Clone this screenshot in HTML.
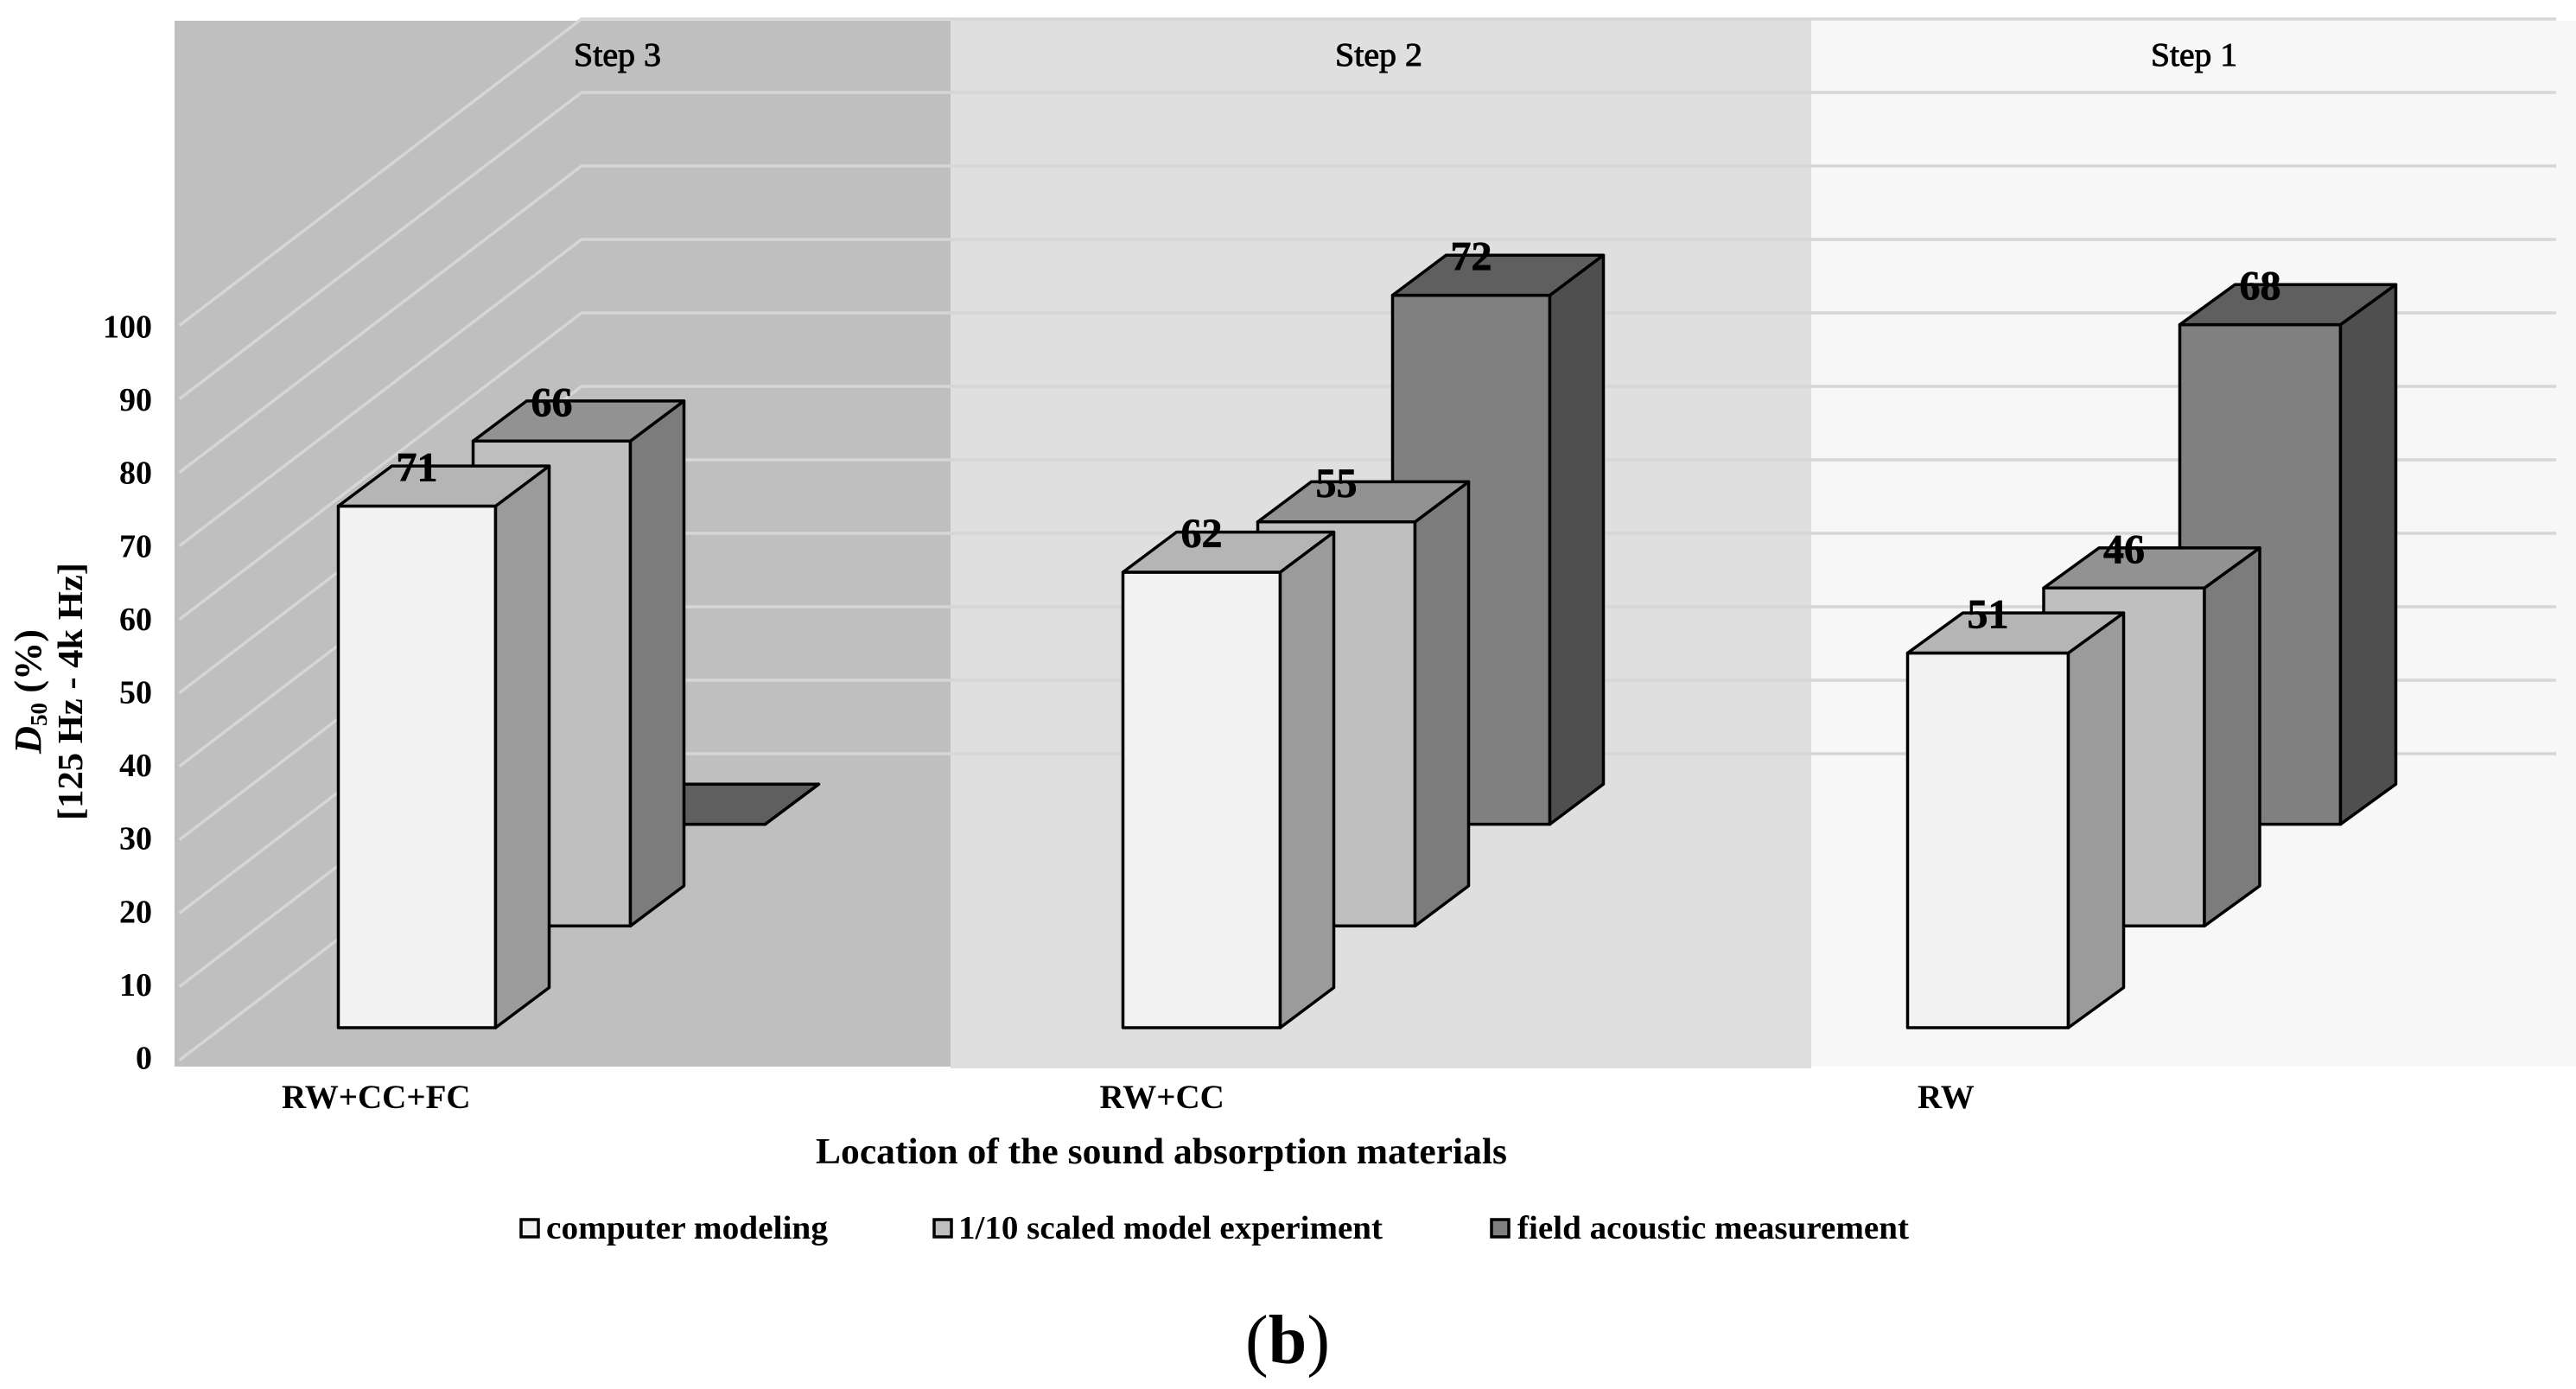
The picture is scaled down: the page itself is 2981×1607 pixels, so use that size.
<!DOCTYPE html>
<html lang="en">
<head>
<meta charset="utf-8">
<title>D50 by location of the sound absorption materials</title>
<style>
  html, body { margin: 0; padding: 0; background: #ffffff; }
  svg { display: block; }
  text { font-family: "Liberation Serif", serif; fill: #000000; }
</style>
</head>
<body>
<svg id="chart" xmlns="http://www.w3.org/2000/svg" width="2981" height="1607" viewBox="0 0 2981 1607">
  <rect x="0" y="0" width="2981" height="1607" fill="#ffffff"/>
  <rect x="202" y="24" width="898" height="1210" fill="#bfbfbf"/>
  <rect x="1100" y="23" width="996" height="1213" fill="#dfdfdf"/>
  <rect x="2096" y="24" width="885" height="1210" fill="#f7f7f7"/>
  <g id="grid"></g>
  <text x="664" y="76" font-size="38" stroke="#000" stroke-width="0.9" textLength="101" lengthAdjust="spacingAndGlyphs">Step 3</text>
  <text x="1545" y="76" font-size="38" stroke="#000" stroke-width="0.9" textLength="101" lengthAdjust="spacingAndGlyphs">Step 2</text>
  <text x="2489" y="76" font-size="38" stroke="#000" stroke-width="0.9" textLength="100" lengthAdjust="spacingAndGlyphs">Step 1</text>
  <g id="bars"></g>
  <g id="value-labels"></g>
  <g id="y-ticks"></g>
  <g id="x-labels"></g>
  <text transform="translate(47,872) rotate(-90)" font-size="44" font-weight="bold" textLength="144" lengthAdjust="spacingAndGlyphs"><tspan font-style="italic">D</tspan><tspan font-size="27" dy="7">50</tspan><tspan dy="-7"> (%)</tspan></text>
  <text transform="translate(95,949) rotate(-90)" font-size="41" font-weight="bold" textLength="298" lengthAdjust="spacingAndGlyphs">[125 Hz - 4k Hz]</text>
  <text x="944" y="1346" font-size="42" font-weight="bold" textLength="800" lengthAdjust="spacingAndGlyphs">Location of the sound absorption materials</text>

  <g>
    <g>
      <rect x="603" y="1411" width="20" height="20" fill="#f2f2f2" stroke="#000" stroke-width="3.5"/>
      <text x="632" y="1433" font-size="38" font-weight="bold" textLength="326" lengthAdjust="spacingAndGlyphs">computer modeling</text>
    </g>
    <g>
      <rect x="1081" y="1411" width="20" height="20" fill="#bfbfbf" stroke="#000" stroke-width="3.5"/>
      <text x="1109" y="1433" font-size="38" font-weight="bold" textLength="491" lengthAdjust="spacingAndGlyphs">1/10 scaled model experiment</text>
    </g>
    <g>
      <rect x="1726" y="1411" width="20" height="20" fill="#808080" stroke="#000" stroke-width="3.5"/>
      <text x="1756" y="1433" font-size="38" font-weight="bold" textLength="453" lengthAdjust="spacingAndGlyphs">field acoustic measurement</text>
    </g>
  </g>

  <text x="1441" y="1577" font-size="80" textLength="98" lengthAdjust="spacing">(<tspan font-weight="bold">b</tspan>)</text>
</svg>

<script>
const categories = ['RW+CC+FC', 'RW+CC', 'RW'];
const computerModeling = [71, 62, 51];
const scaledModel = [66, 55, 46];
const fieldMeasurement = [0, 72, 68];
const tickLabels = [0, 10, 20, 30, 40, 50, 60, 70, 80, 90, 100];

const SVG_NS = 'http://www.w3.org/2000/svg';

function make(tag, parent) {
  const el = document.createElementNS(SVG_NS, tag);
  parent.appendChild(el);
  return el;
}

function valueHeight(v) { return v * 8.5; }
function gridBackY(v) { return 872 - v * 8.5; }
function tickLabelY(v) { return 1236.5 - v * 8.46; }
function categoryGeometry(i) {
  const last = i === 2;
  return {
    left: 391.5 + 908 * i,
    width: last ? 186 : 182,
    rowStep: last ? 157.5 : 156,
    dx: last ? 64 : 62
  };
}
function rowBaseY(row) { return 1189 - row * 117.7; }

const seriesStyles = [
  { key: 'computer-modeling', front: '#f2f2f2', side: '#9b9b9b', top: '#b5b5b5', values: computerModeling },
  { key: 'scaled-model', front: '#bfbfbf', side: '#7c7c7c', top: '#929292', values: scaledModel },
  { key: 'field-measurement', front: '#808080', side: '#4f4f4f', top: '#5f5f5f', values: fieldMeasurement }
];

function drawGrid() {
  const group = document.getElementById('grid');
  tickLabels.forEach(function (v) {
    const y = gridBackY(v);
    const line = make('polyline', group);
    
    
    line.setAttribute('points', '207.6,' + (y + 354.6) + ' 673,' + y + ' 2958,' + y);
    line.setAttribute('fill', 'none');
    line.setAttribute('stroke', '#d6d6d6');
    line.setAttribute('stroke-width', '3.5');
  });
}

function face(parent, name, points, fill) {
  const poly = make('polygon', parent);
  
  
  poly.setAttribute('points', points.map(function (p) { return p[0] + ',' + p[1]; }).join(' '));
  poly.setAttribute('fill', fill);
  poly.setAttribute('stroke', '#000000');
  poly.setAttribute('stroke-width', '3.5');
  poly.setAttribute('stroke-linejoin', 'round');
}

function drawBars() {
  const barsGroup = document.getElementById('bars');
  const labelsGroup = document.getElementById('value-labels');
  const dy = 46.4;
  categories.forEach(function (cat, i) {
    const geo = categoryGeometry(i);
    for (let s = seriesStyles.length - 1; s >= 0; s--) {
      const series = seriesStyles[s];
      const value = series.values[i];
      const x0 = geo.left + s * geo.rowStep;
      const x1 = x0 + geo.width;
      const bottom = rowBaseY(s);
      const top = bottom - valueHeight(value);
      const bar = make('g', barsGroup);
      
      
      face(bar, 'bar-front', [[x0, top], [x1, top], [x1, bottom], [x0, bottom]], series.front);
      face(bar, 'bar-side', [[x1, top], [x1 + geo.dx, top - dy], [x1 + geo.dx, bottom - dy], [x1, bottom]], series.side);
      face(bar, 'bar-top', [[x0, top], [x0 + geo.dx, top - dy], [x1 + geo.dx, top - dy], [x1, top]], series.top);
      if (value > 0) {
        const label = make('text', labelsGroup);
        
        
        label.setAttribute('x', (x0 + x1) / 2);
        label.setAttribute('y', top - 29);
        label.setAttribute('text-anchor', 'middle');
        label.setAttribute('font-size', '48');
        label.setAttribute('font-weight', 'bold');
        label.setAttribute('stroke', '#000000');
        label.setAttribute('stroke-width', '0.7');
        label.textContent = value;
      }
    }
  });
}

function drawAxes() {
  const tickGroup = document.getElementById('y-ticks');
  tickLabels.forEach(function (v) {
    const t = make('text', tickGroup);
    
    
    t.setAttribute('x', 176);
    t.setAttribute('y', tickLabelY(v));
    t.setAttribute('text-anchor', 'end');
    t.setAttribute('font-size', '38');
    t.setAttribute('font-weight', 'bold');
    t.textContent = v;
  });
  const xGroup = document.getElementById('x-labels');
  categories.forEach(function (cat, i) {
    const t = make('text', xGroup);
    
    
    t.setAttribute('x', 326 + 946.5 * i);
    t.setAttribute('y', 1282);
    t.setAttribute('font-size', '39');
    t.setAttribute('font-weight', 'bold');
    t.textContent = cat;
  });
}

drawGrid();
drawBars();
drawAxes();
</script>
</body>
</html>
